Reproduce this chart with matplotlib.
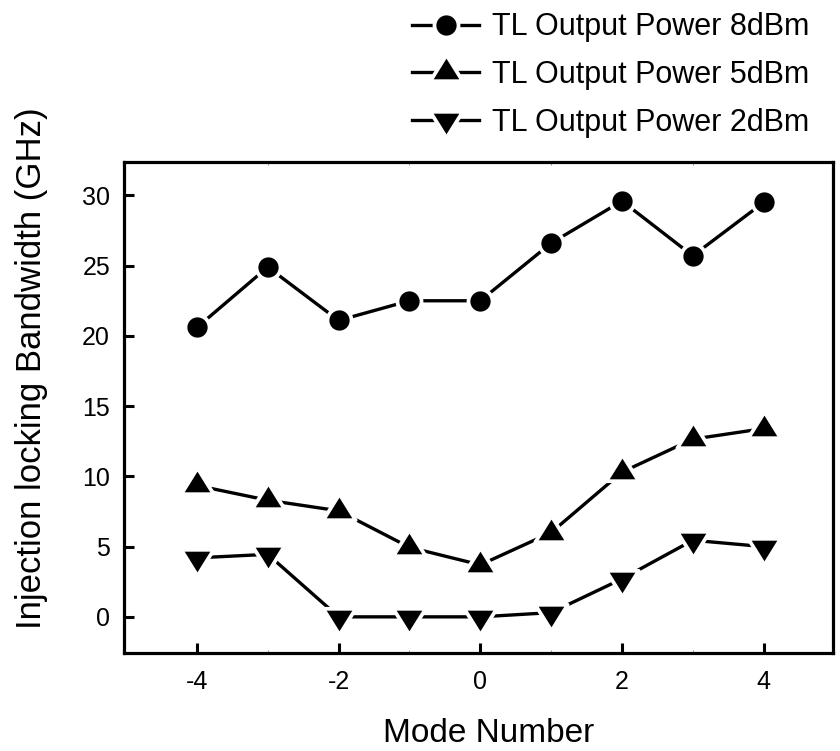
import matplotlib
matplotlib.use("Agg")
import matplotlib.pyplot as plt
from matplotlib.path import Path
from matplotlib.markers import MarkerStyle
import numpy as np

plt.rcParams['font.family'] = ['Liberation Sans', 'DejaVu Sans']
plt.rcParams['axes.unicode_minus'] = False

modes = [-4, -3, -2, -1, 0, 1, 2, 3, 4]
power_8dbm = [20.6, 24.9, 21.1, 22.5, 22.5, 26.6, 29.6, 25.7, 29.5]
power_5dbm = [9.35, 8.3, 7.55, 4.95, 3.7, 6.0, 10.3, 12.65, 13.4]
power_2dbm = [4.2, 4.45, 0.0, 0.0, 0.0, 0.3, 2.7, 5.45, 5.0]
labels = ["TL Output Power 8dBm", "TL Output Power 5dBm", "TL Output Power 2dBm"]
yticks = [0, 5, 10, 15, 20, 25, 30]
xticks = [-4, -2, 0, 2, 4]

# centroid-centred triangle markers
h, w = 20.7, 25.7
up_path = Path([(0, 2 * h / 3), (-w / 2, -h / 3), (w / 2, -h / 3), (0, 2 * h / 3)],
               [Path.MOVETO, Path.LINETO, Path.LINETO, Path.CLOSEPOLY])
down_path = Path([(0, -2 * h / 3), (-w / 2, h / 3), (w / 2, h / 3), (0, -2 * h / 3)],
                 [Path.MOVETO, Path.LINETO, Path.LINETO, Path.CLOSEPOLY])
up_m = MarkerStyle(up_path, joinstyle='round')
down_m = MarkerStyle(down_path, joinstyle='round')

fig = plt.figure(figsize=(8.4, 7.51), dpi=100)
ax = fig.add_axes([0.1476, 0.130, 0.8441, 0.6547])

mew = 2.7
tri_ms = 2 * (2 * h / 3) * 0.72 * 1.26
common = dict(color='black', lw=2.4, mec='white', mew=mew, mfc='black')
ax.plot(modes, power_8dbm, marker='o', ms=14.6 + mew, label=labels[0], **common)
ax.plot(modes, power_5dbm, marker=up_m, ms=tri_ms, label=labels[1], **common)
ax.plot(modes, power_2dbm, marker=down_m, ms=tri_ms, label=labels[2], **common)

ax.set_xlim(-5.03, 4.98)
ax.set_ylim(-2.6, 32.4)
ax.set_xticks(xticks)
ax.set_yticks(yticks)
ax.set_xticks(modes, minor=True)
ax.tick_params(which='major', direction='in', length=7, width=2.2, labelsize=18)
ax.tick_params(axis='x', which='major', pad=12, top=False)
ax.tick_params(axis='y', which='major', pad=10)
ax.tick_params(axis='x', which='minor', direction='in', length=2, width=0.6, color='#888888',
               top=True)
for s in ax.spines.values():
    s.set_linewidth(2.3)

ax.set_xlabel("Mode Number", fontsize=24)
ax.set_ylabel("Injection locking Bandwidth (GHz)", fontsize=25)
ax.xaxis.set_label_coords(0.514, -0.162)
ax.xaxis.label.set_va('center')
ax.yaxis.set_label_coords(-0.130, 0.581)
ax.yaxis.label.set_va('center')

fig.legend(loc='upper left', bbox_to_anchor=(0.476, 1.0), frameon=False, fontsize=22,
           handlelength=2.2, handletextpad=0.42, labelspacing=0.58, borderaxespad=0.0,
           numpoints=1)

fig.savefig("out.png", dpi=100)
